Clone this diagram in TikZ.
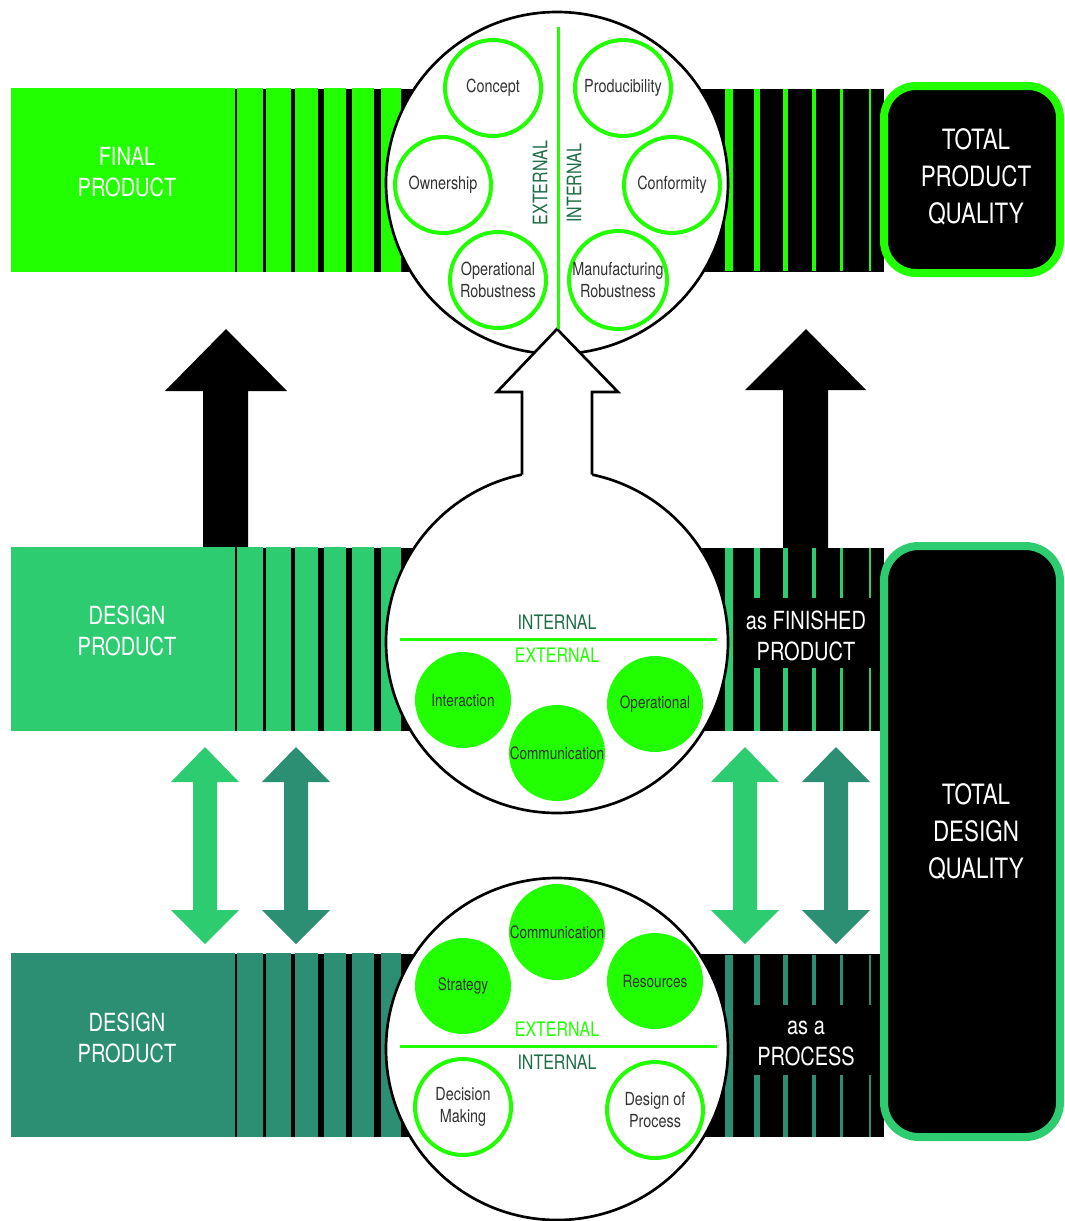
\documentclass[tikz,border=0pt]{standalone}
\usepackage{fontspec}
\setmainfont{TeX Gyre Heros}[FakeStretch=0.8]
\definecolor{brightg}{RGB}{34,255,0}
\definecolor{midg}{RGB}{46,204,113}
\definecolor{tealg}{RGB}{44,142,115}
\definecolor{darkg}{RGB}{30,110,70}
\definecolor{txtgray}{RGB}{51,51,51}
\newcommand{\bigf}{\fontsize{18.75pt}{23.25pt}\selectfont}
\newcommand{\totalf}{\fontsize{21pt}{27.75pt}\selectfont}
\newcommand{\smallf}{\fontsize{13.5pt}{17pt}\selectfont}
\newcommand{\fillf}{\fontsize{12.75pt}{15pt}\selectfont}
\newcommand{\sidef}{\fontsize{15pt}{18pt}\selectfont}
% striped bar: top, bottom, colour
\newcommand{\stripedrow}[3]{%
  \fill[black] (235,#1+1) rectangle (884,#2);
  \fill[#3] (11,#1) rectangle (235,#2);
  \foreach \a/\b in {237/263,266/291,295/318,324/346,352/374,381/401}
    \fill[#3] (\a,#1) rectangle (\b,#2);
}
% thinning lines on the right side of a bar: top, bottom, colour
\newcommand{\fulllines}[3]{%
  \foreach \c/\w in {729/8,757/6,785.5/5,813.5/4,841.5/3,870/2}
    \fill[#3] (\c-\w/2,#1) rectangle (\c+\w/2,#2);
}
% same, broken around a caption: top, gap top, gap bottom, bottom, colour
\newcommand{\splitlines}[5]{%
  \fill[#5] (725,#1) rectangle (733,#4);
  \foreach \c/\w in {757/6,785.5/5,813.5/4,841.5/3,870/2}{
    \fill[#5] (\c-\w/2,#1) rectangle (\c+\w/2,#2);
    \fill[#5] (\c-\w/2,#3) rectangle (\c+\w/2,#4);
  }
}
\begin{document}
\begin{tikzpicture}[x=0.75pt,y=-0.75pt,
  barlabel/.style={text=white, align=center, font=\bigf},
  totallabel/.style={text=white, align=center, font=\totalf},
  ring/.style={circle, draw=brightg, line width=3pt, fill=white, minimum size=72pt,
    inner sep=0pt, text=txtgray, align=center, font=\smallf},
  disc/.style={circle, fill=brightg, minimum size=72pt, inner sep=0pt,
    text=txtgray, align=center, font=\fillf},
  bigcircle/.style={draw=black, line width=2pt, fill=white},
  divider/.style={draw=brightg, line width=2.25pt},
  sidetext/.style={font=\sidef, inner sep=0pt}]
\useasboundingbox (0,0) rectangle (1064,1221);

% black upward arrows from design product to final product
\fill[black] (203,552) -- (203,391) -- (165,391) -- (226,329) -- (287,391)
  -- (248,391) -- (248,552) -- cycle;
\fill[black] (783,552) -- (783,390) -- (745,390) -- (806,329) -- (866,390)
  -- (828,390) -- (828,552) -- cycle;

% the three striped bars
\stripedrow{88}{272}{brightg}
\fulllines{89}{271}{brightg}
\stripedrow{547}{731}{midg}
\splitlines{548}{598}{668}{731}{midg}
\stripedrow{953}{1137}{tealg}
\splitlines{955}{1005}{1075}{1137}{tealg}

% quality boxes
\draw[brightg, line width=6pt, fill=black, rounded corners=24pt]
  (884,86) rectangle (1060,273);
\draw[midg, line width=6pt, fill=black, rounded corners=26pt]
  (884,546) rectangle (1060,1137);

% bar captions
\node[barlabel] (finalp) at (127,172) {FINAL\\PRODUCT};
\node[barlabel] (designp1) at (127,631) {DESIGN\\PRODUCT};
\node[barlabel] (designp2) at (127,1038) {DESIGN\\PRODUCT};
\node[barlabel] (finished) at (806,636) {as FINISHED\\PRODUCT};
\node[barlabel] (process) at (806,1043) {as a\\PROCESS};
\node[totallabel] (tpq) at (976,177) {TOTAL\\PRODUCT\\QUALITY};
\node[totallabel] (tdq) at (976,832) {TOTAL\\DESIGN\\QUALITY};

% double arrows between the design bars
\foreach \cx/\col in {205/midg,296/tealg,745/midg,836/tealg}
  \fill[\col] (\cx,747) -- (\cx+34,782) -- (\cx+12,782) -- (\cx+12,910)
    -- (\cx+34,910) -- (\cx,944) -- (\cx-34,910) -- (\cx-12,910)
    -- (\cx-12,782) -- (\cx-34,782) -- cycle;

% big circles
\path[bigcircle] (557,183) circle (171);
\path[bigcircle] (557,642) circle (171);
\path[bigcircle] (557,1049) circle (171);

% hollow arrow joining the middle circle to the top circle
\fill[white] (522,392) -- (497,392) -- (557,329) -- (618,392) -- (592,392)
  -- (592,492) -- (522,492) -- cycle;
\draw[black, line width=2pt, line join=miter]
  (522,474.6) -- (522,392) -- (497,392) -- (557,329) -- (618,392)
  -- (592,392) -- (592,474.6);

% top circle: product attributes
\draw[divider] (558,27) -- (558,329);
\node[sidetext, text=darkg, rotate=90] (extv) at (540,183) {EXTERNAL};
\node[sidetext, text=darkg, rotate=90] (intv) at (574,183) {INTERNAL};
\node[ring] (concept) at (493,88) {Concept};
\node[ring] (produc) at (623,88) {Producibility};
\node[ring] (owner) at (443,185) {Ownership};
\node[ring] (conform) at (672,185) {Conformity};
\node[ring] (oprob) at (498,280) {Operational\\Robustness};
\node[ring] (manrob) at (618,280) {Manufacturing\\Robustness};

% middle circle: design as finished product
\draw[divider] (400,639) -- (717,639);
\node[sidetext, text=darkg] (intm) at (557,622) {INTERNAL};
\node[sidetext, text=brightg] (extm) at (557,655) {EXTERNAL};
\node[disc] (interact) at (463,700) {Interaction};
\node[disc] (commm) at (557,753) {Communication};
\node[disc] (operat) at (655,704) {Operational};

% bottom circle: design as a process
\draw[divider] (400,1046) -- (717,1046);
\node[sidetext, text=brightg] (extb) at (557,1029) {EXTERNAL};
\node[sidetext, text=darkg] (intb) at (557,1062) {INTERNAL};
\node[disc] (commb) at (557,932) {Communication};
\node[disc] (strat) at (463,986) {Strategy};
\node[disc] (resour) at (655,981) {Resources};
\node[ring] (decis) at (463,1107) {Decision\\Making};
\node[ring] (dproc) at (655,1110) {Design of\\Process};
\end{tikzpicture}
\end{document}
